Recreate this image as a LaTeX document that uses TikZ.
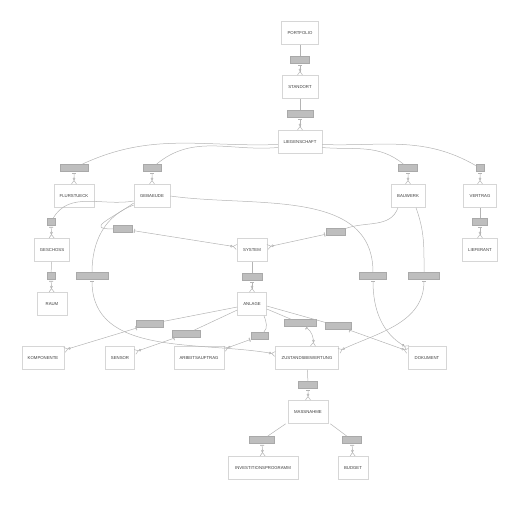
\documentclass[tikz,border=0pt]{standalone}
\usepackage{fontspec}
\setmainfont{Liberation Sans}
\usepackage{tikz}
\usetikzlibrary{positioning, arrows.meta, calc}
\definecolor{cLine}   {HTML}{B4B4B4}
\definecolor{cBox}    {HTML}{D6D6D6}
\definecolor{cLbl}    {HTML}{BEBEBE}
\definecolor{cLblEdge}{HTML}{A9A9A9}
\definecolor{cText}   {HTML}{3C3C3C}
\tikzset{
  entity/.style={draw=cBox, fill=white, line width=0.5pt, minimum height=23pt,
                 inner sep=0pt, font=\fontsize{4.3}{5}\selectfont, text=cText},
  relbox/.style={draw=cLblEdge, fill=cLbl, line width=0.4pt, minimum height=7pt, inner sep=0pt},
  rel/.style={draw=cLine, line width=0.5pt,
              {Bar[width=4pt,sep=1.2pt]Bar[width=4pt]}-{Circle[open,length=2.6pt]Straight Barb[reversed,length=3.5pt,width=5pt]}},
}
\begin{document}
\begin{tikzpicture}[x=1pt, y=1pt]
  \useasboundingbox (0,0) rectangle (520,-509);
  % entities
  \node[entity, minimum width=37pt] (portfolio) at (300,-33) {PORTFOLIO};
  \node[entity, minimum width=36pt] (standort) at (300,-87) {STANDORT};
  \node[entity, minimum width=44pt] (lieg) at (300,-142) {LIEGENSCHAFT};
  \node[entity, minimum width=40pt] (flur) at (74,-196) {FLURSTUECK};
  \node[entity, minimum width=36pt] (geb) at (152,-196) {GEBAEUDE};
  \node[entity, minimum width=34pt] (bau) at (408,-196) {BAUWERK};
  \node[entity, minimum width=33pt] (vert) at (480,-196) {VERTRAG};
  \node[entity, minimum width=35pt] (lief) at (480,-250) {LIEFERANT};
  \node[entity, minimum width=35pt] (gesch) at (52,-250) {GESCHOSS};
  \node[entity, minimum width=30pt] (raum) at (52,-304) {RAUM};
  \node[entity, minimum width=30pt] (sys) at (252,-250) {SYSTEM};
  \node[entity, minimum width=29pt] (anl) at (252,-304) {ANLAGE};
  \node[entity, minimum width=42pt] (komp) at (43,-358) {KOMPONENTE};
  \node[entity, minimum width=29pt] (sens) at (120,-358) {SENSOR};
  \node[entity, minimum width=50pt] (arb) at (199,-358) {ARBEITSAUFTRAG};
  \node[entity, minimum width=63pt] (zust) at (307,-358) {ZUSTANDSBEWERTUNG};
  \node[entity, minimum width=38pt] (dok) at (427,-358) {DOKUMENT};
  \node[entity, minimum width=40pt] (mass) at (308,-412) {MASSNAHME};
  \node[entity, minimum width=70pt] (inv) at (263,-468) {INVESTITIONSPROGRAMM};
  \node[entity, minimum width=30pt] (bud) at (353,-468) {BUDGET};
  % relation labels
  \node[relbox, minimum width=19pt] (r1) at (300,-60) {};
  \node[relbox, minimum width=26pt] (r2) at (300,-114) {};
  \node[relbox, minimum width=28pt] (r3) at (74,-168) {};
  \node[relbox, minimum width=18pt] (r4) at (152,-168) {};
  \node[relbox, minimum width=19pt] (r5) at (408,-168) {};
  \node[relbox, minimum width=8pt] (r6) at (480,-168) {};
  \node[relbox, minimum width=15pt] (r7) at (480,-222) {};
  \node[relbox, minimum width=8pt] (r8) at (51,-222) {};
  \node[relbox, minimum width=8pt] (r9) at (51,-276) {};
  \node[relbox, minimum width=19pt] (r10) at (123,-229) {};
  \node[relbox, minimum width=19pt] (r11) at (336,-232) {};
  \node[relbox, minimum width=20pt] (r12) at (252,-277) {};
  \node[relbox, minimum width=32pt] (r13) at (92,-276) {};
  \node[relbox, minimum width=27pt] (r14) at (373,-276) {};
  \node[relbox, minimum width=31pt] (r15) at (424,-276) {};
  \node[relbox, minimum width=27pt] (r16) at (150,-324) {};
  \node[relbox, minimum width=28pt] (r17) at (186,-334) {};
  \node[relbox, minimum width=17pt] (r18) at (260,-336) {};
  \node[relbox, minimum width=32pt] (r19) at (300,-323) {};
  \node[relbox, minimum width=26pt] (r20) at (338,-326) {};
  \node[relbox, minimum width=19pt] (r21) at (308,-385) {};
  \node[relbox, minimum width=25pt] (r22) at (262,-440) {};
  \node[relbox, minimum width=19pt] (r23) at (352,-440) {};
  % relations
  \draw[rel] (portfolio) -- (r1) -- (standort);
  \draw[rel] (standort) -- (r2) -- (lieg);
  \draw[rel] ($(lieg.west)+(0,-2.5)$) to[out=182,in=25] (r3) -- (flur);
  \draw[rel] ($(lieg.west)+(0,-5.5)$) to[out=185,in=40] (r4) -- (geb);
  \draw[rel] ($(lieg.east)+(0,-2.5)$) to[out=-2,in=150] (r6) -- (vert);
  \draw[rel] ($(lieg.east)+(0,-5.5)$) to[out=-5,in=140] (r5) -- (bau);
  \draw[rel] (vert) -- (r7) -- (lief);
  \draw[rel] ($(geb.west)+(0,-5)$) to[out=190,in=60] (r8) -- (gesch);
  \draw[rel] (gesch) -- (r9) -- (raum);
  \draw[rel] ($(geb.west)+(0,-7)$) to[out=215,in=180,looseness=2.2] (r10) -- ($(sys.west)+(0,3)$);
  \draw[rel] ($(geb.west)+(0,-9)$) to[out=200,in=90] (r13) to[out=270,in=170] ($(zust.west)+(0,4)$);
  \draw[rel] (geb.east) to[out=-8,in=90] (r14) to[out=270,in=150] ($(dok.west)+(0,10)$);
  \draw[rel] ($(bau.south)+(-10,0)$) to[out=250,in=20] (r11) -- ($(sys.east)+(0,3)$);
  \draw[rel] ($(bau.south)+(8,0)$) to[out=290,in=90] (r15) to[out=270,in=25] ($(zust.east)+(0,7)$);
  \draw[rel] (sys) -- (r12) -- (anl);
  \draw[rel] ($(anl.west)+(0,-3)$) -- (r16) -- ($(komp.east)+(0,8)$);
  \draw[rel] ($(anl.west)+(0,-6)$) -- (r17) -- ($(sens.east)+(0,6)$);
  \draw[rel] ($(anl.south)+(12,0)$) to[out=-70,in=45] (r18) -- ($(arb.east)+(0,9)$);
  \draw[rel] ($(anl.east)+(0,-5)$) -- (r19) to[out=-35,in=85] ($(zust.north)+(6,0)$);
  \draw[rel] ($(anl.east)+(0,-2)$) -- (r20) -- ($(dok.west)+(0,7)$);
  \draw[rel] (zust) -- (r21) -- (mass);
  \draw[rel] ($(mass.south west)+(-2,0)$) -- (r22) -- (inv);
  \draw[rel] ($(mass.south east)+(2,0)$) -- (r23) -- (bud);
\end{tikzpicture}
\end{document}
